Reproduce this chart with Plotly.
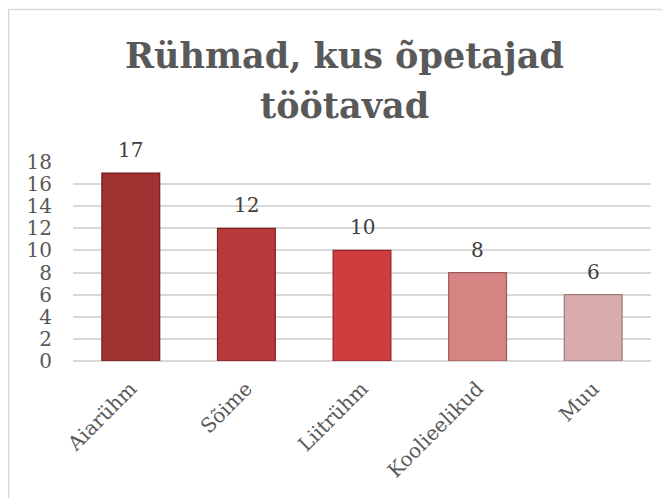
import plotly.graph_objects as go

categories = ["Aiarühm", "Sõime", "Liitrühm", "Koolieelikud", "Muu"]
values = [17, 12, 10, 8, 6]
bar_colors = ["#a03232", "#b83a3a", "#cf3d3d", "#d58383", "#d9abab"]
edge_colors = ["#6e1c1c", "#7e2222", "#8e2626", "#9a5a5a", "#9e7a7a"]
y_ticks = [0, 2, 4, 6, 8, 10, 12, 14, 16, 18]
title_lines = ["Rühmad, kus õpetajad", "töötavad"]

# the page body adds an 8px margin, so the figure is 662x490
W, H = 662, 490
L, R, T, B = 65, 19, 154, 137
pw, ph = W - L - R, H - T - B

fig = go.Figure()
fig.add_trace(go.Bar(
    x=categories, y=values,
    marker=dict(color=bar_colors, line=dict(color=edge_colors, width=1.2)),
    hoverinfo="x+y",
))

for c, v in zip(categories, values):
    fig.add_annotation(x=c, y=v, text=str(v), showarrow=False,
                       yanchor="bottom", yshift=9,
                       font=dict(family="DejaVu Serif", size=20, color="#404040"))

# title, two lines
for line, ymid in zip(title_lines, [47, 97]):
    fig.add_annotation(xref="paper", yref="paper", x=(336 - L) / pw,
                       y=(H - B - ymid) / ph, xanchor="center", yanchor="middle",
                       text="<b>" + line + "</b>", showarrow=False,
                       font=dict(family="DejaVu Serif", size=35, color="#595959"))

# outer chart border
fig.add_shape(type="rect", xref="paper", yref="paper",
              x0=(0.7 - L) / pw, x1=(W + 5 - L) / pw,
              y0=(H - B - (H + 5)) / ph, y1=(H - B - 1.5) / ph,
              line=dict(color="#d9d9d9", width=1.5), fillcolor="rgba(0,0,0,0)", layer="below")

fig.update_layout(
    width=W, height=H,
    margin=dict(l=L, r=R, t=T, b=B, autoexpand=False),
    paper_bgcolor="white", plot_bgcolor="white",
    bargap=0.5,
    showlegend=False,
    xaxis=dict(tickangle=-45, showgrid=False, showline=False, ticks="",
               automargin=False, ticklabelstandoff=11,
               tickfont=dict(family="DejaVu Serif", size=20, color="#595959")),
    yaxis=dict(range=[0, 18], tickvals=y_ticks, showgrid=True,
               gridcolor="#d9d9d9", gridwidth=1.5, zeroline=True,
               zerolinecolor="#d9d9d9", zerolinewidth=1.5, automargin=False,
               showline=False, ticks="", ticklabelstandoff=20,
               tickfont=dict(family="DejaVu Serif", size=20, color="#595959")),
)

fig.write_html("out.html")
